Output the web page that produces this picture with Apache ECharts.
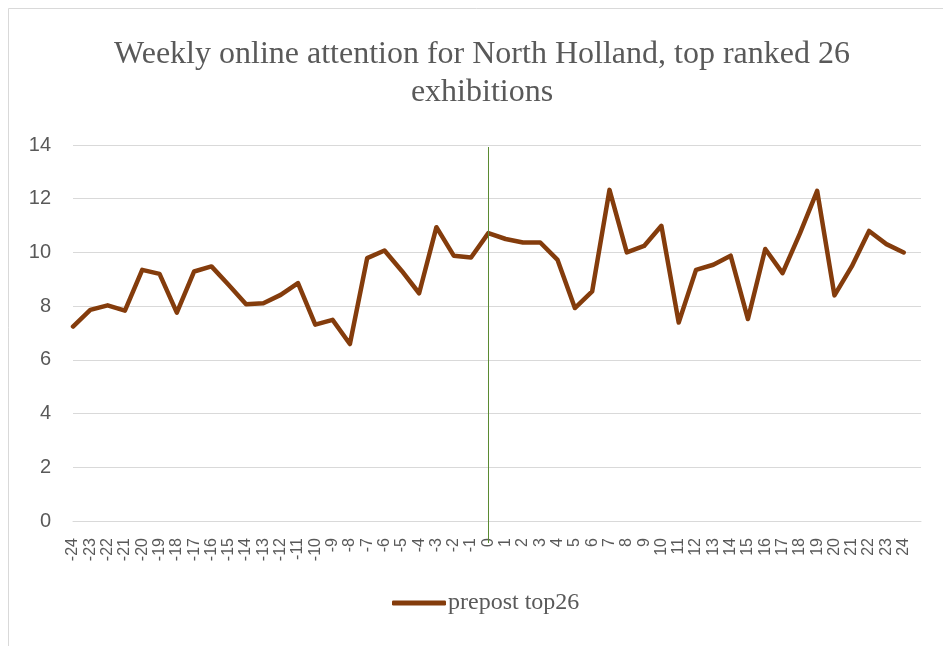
<!DOCTYPE html>
<html>
<head>
<meta charset="utf-8">
<script src="https://cdn.jsdelivr.net/npm/echarts@6/dist/echarts.min.js"></script>
<style>
  html, body { margin: 0; padding: 0; background: #ffffff; }
  #chart { width: 943px; height: 646px; }
</style>
</head>
<body>
<div id="chart"></div>
<script>
// Week offsets relative to the exhibition start (week 0)
const weeks = [
  '-24','-23','-22','-21','-20','-19','-18','-17','-16','-15','-14','-13','-12',
  '-11','-10','-9','-8','-7','-6','-5','-4','-3','-2','-1','0',
  '1','2','3','4','5','6','7','8','9','10','11','12','13','14','15','16','17',
  '18','19','20','21','22','23','24'
];
// Trailing empty slot so the last week sits inside the plot area
const axisCategories = weeks.concat(['']);

// Average weekly online attention, top ranked 26 exhibitions
const prepostTop26 = [
  7.24, 7.86, 8.03, 7.83, 9.35, 9.20, 7.76, 9.29, 9.48, 8.79, 8.07, 8.11, 8.42,
  8.86, 7.31, 7.49, 6.59, 9.79, 10.07, 9.31, 8.48, 10.94, 9.88, 9.81, 10.72,
  10.50, 10.37, 10.37, 9.72, 7.93, 8.55, 12.33, 10.00, 10.24, 10.99, 7.39, 9.35,
  9.54, 9.88, 7.52, 10.13, 9.23, 10.70, 12.29, 8.40, 9.48, 10.80, 10.31, 10.00
];

const seriesName = 'prepost top26';
const dividerWeek = '0';
const yTicks = { min: 0, max: 14, step: 2 };

const chart = echarts.init(document.getElementById('chart'), null, { renderer: 'canvas' });

chart.setOption({
  backgroundColor: '#ffffff',
  animation: false,
  title: {
    text: 'Weekly online attention for North Holland, top ranked 26\nexhibitions',
    left: 477,
    top: 31,
    textAlign: 'center',
    textStyle: {
      fontFamily: '"Liberation Serif", "Times New Roman", serif',
      fontSize: 32,
      fontWeight: 'normal',
      color: '#595959',
      lineHeight: 38
    }
  },
  graphic: [{
    type: 'rect',
    silent: true,
    shape: { x: 8.5, y: 8.5, width: 1000, height: 1000 },
    style: { fill: 'none', stroke: '#d9d9d9', lineWidth: 1 }
  }],
  legend: {
    data: [{ name: seriesName, icon: 'roundRect' }],
    left: 392,
    top: 591,
    itemWidth: 54,
    itemHeight: 5,
    itemGap: 0,
    padding: 0,
    itemStyle: { color: '#843c0c', borderWidth: 0 },
    textStyle: {
      fontFamily: '"Liberation Serif", "Times New Roman", serif',
      fontSize: 24,
      color: '#595959',
      padding: [0, 0, 0, -3]
    }
  },
  grid: { left: 73, right: 22, top: 145, bottom: 125, containLabel: false },
  xAxis: {
    type: 'category',
    data: axisCategories,
    boundaryGap: false,
    axisLine: { show: true, lineStyle: { color: '#d9d9d9', width: 1 } },
    axisTick: { show: false },
    splitLine: { show: false },
    axisLabel: {
      interval: 0,
      rotate: 90,
      margin: 17,
      fontFamily: '"Liberation Sans", Arial, sans-serif',
      fontSize: 16,
      color: '#595959'
    }
  },
  yAxis: {
    type: 'value',
    min: yTicks.min,
    max: yTicks.max,
    interval: yTicks.step,
    axisLine: { show: false },
    axisTick: { show: false },
    splitLine: { lineStyle: { color: '#d9d9d9', width: 1 } },
    axisLabel: {
      margin: 22,
      fontFamily: '"Liberation Sans", Arial, sans-serif',
      fontSize: 20,
      color: '#595959'
    }
  },
  series: [
    {
      name: seriesName,
      type: 'line',
      data: prepostTop26,
      symbol: 'none',
      lineStyle: { color: '#843c0c', width: 4.5, join: 'round', cap: 'round' },
      itemStyle: { color: '#843c0c' },
      z: 3
    },
    {
      // vertical divider at week 0, running from the top of the plot down through the axis labels
      name: 'divider',
      type: 'custom',
      data: [[dividerWeek, yTicks.max]],
      silent: true,
      z: 4,
      renderItem: function (params, api) {
        const top = api.coord([api.value(0), api.value(1)]);
        const bottom = api.coord([api.value(0), yTicks.min]);
        const x = Math.round(top[0]) + 0.5;
        return {
          type: 'line',
          shape: { x1: x, y1: top[1] + 2, x2: x, y2: bottom[1] + 22 },
          style: { stroke: '#5a8a32', lineWidth: 1 }
        };
      }
    }
  ]
});
</script>
</body>
</html>
